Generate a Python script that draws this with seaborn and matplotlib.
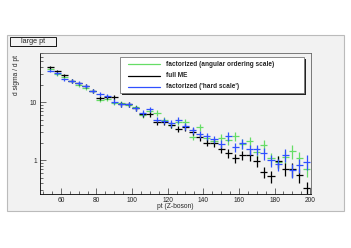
import numpy as np
import matplotlib
matplotlib.use("Agg")
import matplotlib.pyplot as plt
import matplotlib.ticker as mticker
from matplotlib.patches import Rectangle
from matplotlib.lines import Line2D
import seaborn as sns

# bin centres (width 4) of the Z-boson pt histogram
pt_bins = [54, 58, 62, 66, 70, 74, 78, 82, 86, 90, 94, 98, 102, 106, 110, 114, 118, 122, 126,
           130, 134, 138, 142, 146, 150, 154, 158, 162, 166, 170, 174, 178, 182, 186, 190, 194, 198]

full_me = [39.6, 34.2, 29.2, 23.3, 21.0, 19.1, 15.7, 11.6, 12.2, 12.0, 9.2, 9.1, 7.8, 6.2, 6.2,
           4.5, 4.5, 4.0, 3.4, 3.7, 3.1, 2.5, 2.0, 2.0, 1.55, 1.3, 1.07, 1.22, 1.22, 0.97,
           0.63, 0.53, 0.96, 0.70, 0.70, 0.55, 0.33]
fact_angular = [37.1, 30.4, 27.3, 23.3, 19.6, 17.4, 15.5, 10.8, 11.3, 9.6, 9.5, 8.9, 8.1, 6.0, 7.0,
                6.5, 4.9, 4.1, 4.6, 4.6, 2.5, 3.7, 2.4, 2.1, 2.4, 2.2, 2.6, 1.9, 2.1, 1.37,
                1.8, 1.08, 0.94, 1.13, 1.43, 1.08, 0.70]
fact_hard = [34.7, 31.6, 24.9, 23.3, 21.3, 18.9, 15.7, 13.6, 12.9, 10.2, 9.2, 9.1, 7.9, 6.5, 7.5,
             5.0, 4.7, 4.3, 4.9, 3.8, 3.25, 2.8, 2.6, 2.3, 1.9, 2.6, 1.65, 1.94, 1.53, 1.53,
             1.3, 1.0, 0.85, 1.22, 0.67, 0.82, 0.94]
# relative statistical error per bin
rel_err = [0.06, 0.06, 0.06, 0.07, 0.07, 0.07, 0.08, 0.08, 0.08, 0.09, 0.09, 0.09, 0.10, 0.10, 0.10,
           0.11, 0.11, 0.12, 0.12, 0.13, 0.13, 0.14, 0.14, 0.15, 0.16, 0.17, 0.18, 0.19, 0.20, 0.21,
           0.22, 0.23, 0.24, 0.25, 0.26, 0.27, 0.28]

series = [
    ("factorized (angular ordering scale)", fact_angular, "#66dd66"),
    ("full ME", full_me, "black"),
    ("factorized ('hard scale')", fact_hard, "#3050ff"),
]

sns.set_style("ticks")
plt.rcParams["font.family"] = ["Liberation Sans", "DejaVu Sans"]

W, H = 351, 248
fig = plt.figure(figsize=(W / 100, H / 100), dpi=100)
fig.patch.set_facecolor("white")

def px_rect(x0, y0, x1, y1, **kw):
    # rectangle given in pixel coords from the top-left corner
    r = Rectangle((x0 / W, 1 - y1 / H), (x1 - x0) / W, (y1 - y0) / H,
                  transform=fig.transFigure, **kw)
    fig.patches.append(r)
    return r

bg = "#f2f2f2"
# ROOT canvas area
px_rect(7, 35, 344, 211, facecolor=bg, edgecolor="#bbbbbb", lw=0.8, zorder=0)

ax = fig.add_axes([39.5 / W, 1 - 194 / H, 271.5 / W, 141 / H])
ax.set_zorder(2)
ax.set_facecolor(bg)

x = np.array(pt_bins)
for label, vals, col in series:
    v = np.array(vals)
    ax.errorbar(x, v, xerr=2, yerr=v * np.array(rel_err), fmt="none", ecolor=col,
                elinewidth=0.9, capsize=0, label=label)

ax.set_yscale("log")
ax.set_xlim(48, 200.5)
ax.set_ylim(0.26, 70)

ax.xaxis.set_major_locator(mticker.MultipleLocator(20))
ax.xaxis.set_minor_locator(mticker.MultipleLocator(5))
ax.yaxis.set_major_locator(mticker.LogLocator(base=10))
ax.yaxis.set_minor_locator(mticker.LogLocator(base=10, subs=np.arange(2, 10)))
ax.yaxis.set_major_formatter(mticker.FuncFormatter(lambda v, p: f"{v:g}"))
ax.yaxis.set_minor_formatter(mticker.NullFormatter())
ax.tick_params(which="both", direction="in", labelsize=4.8, width=0.5, color="#333333", pad=2)
ax.tick_params(which="major", length=4)
ax.tick_params(which="minor", length=2)

for s in ax.spines.values():
    s.set_linewidth(0.6)
    s.set_color("#666666")
for s in ("left", "bottom"):
    ax.spines[s].set_color("black")

fig.text(175 / W, 1 - 206 / H, "pt (Z-boson)", fontsize=4.8, ha="center", va="center")
fig.text(16 / W, 1 - 55 / H, "d sigma / d pt", fontsize=4.8, rotation=90, ha="center", va="top")

# title box
px_rect(11, 38, 57, 47, facecolor="#555555", edgecolor="none", zorder=1)
px_rect(10, 37, 56, 46, facecolor=bg, edgecolor="black", lw=0.6, zorder=2)
fig.text(33 / W, 1 - 41.5 / H, "large pt", fontsize=5.2, ha="center", va="center", zorder=3)

# legend box with shadow, drawn in pixel coords
px_rect(121.5, 58.5, 305.5, 94.5, facecolor="#222222", edgecolor="none", zorder=5)
px_rect(120, 57, 304, 93, facecolor="white", edgecolor="#777777", lw=0.6, zorder=6)
for i, (label, vals, col) in enumerate(series):
    yy = 1 - (64 + i * 11.5) / H
    fig.lines.append(Line2D([128 / W, 160 / W], [yy, yy], transform=fig.transFigure,
                            color=col, lw=0.9, zorder=7))
    fig.text(166 / W, yy, label, fontsize=4.7, fontweight="bold", ha="left", va="center",
             zorder=8)

fig.savefig("out.png", dpi=100)
